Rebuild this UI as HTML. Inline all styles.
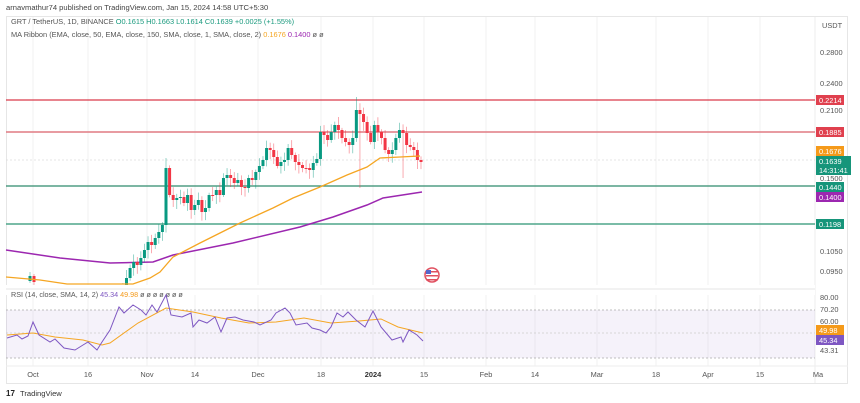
<!DOCTYPE html>
<html><head><meta charset="utf-8"><style>
html,body{margin:0;padding:0;background:#fff;width:860px;height:403px;overflow:hidden}
svg{display:block;font-family:"Liberation Sans",sans-serif}
</style></head><body>
<svg id="c" width="860" height="403" viewBox="0 0 860 403">
<rect x="0" y="0" width="860" height="403" fill="#fff"/>
<text x="6" y="10" font-size="7.6" fill="#444">arnavmathur74 published on TradingView.com, Jan 15, 2024 14:58 UTC+5:30</text>
<rect x="6.5" y="16.5" width="841" height="367" fill="none" stroke="#e6e6e6"/>
<line x1="815" y1="17" x2="815" y2="383" stroke="#ececec"/>
<g id="grid" stroke="#f2f2f2" stroke-width="1"></g>
<line x1="6" y1="100" x2="815" y2="100" stroke="#d93a4a" stroke-width="1.2"/>
<line x1="6" y1="132" x2="815" y2="132" stroke="#e07a82" stroke-width="1.6"/>
<line x1="6" y1="160" x2="815" y2="160" stroke="#ddd" stroke-width="0.8" stroke-dasharray="2,2"/>
<line x1="6" y1="186" x2="815" y2="186" stroke="#2e8a6c" stroke-width="1.2"/>
<line x1="6" y1="224" x2="815" y2="224" stroke="#4fa58a" stroke-width="1.4"/>
<polyline fill="none" stroke="#9c27b0" stroke-width="1.5" points="6,250 60,258 110,263 153,262 173,255 233,243 300,227 333,217 367,205 383,198 422,192"/>
<g id="candles"></g>
<polyline fill="none" stroke="#f5a623" stroke-width="1.3" points="6,277 40,280 67,284 133,284 150,278 160,272 173,257 200,243 240,223 273,208 293,198 320,187 347,175 367,167 380,158 400,157 420,156"/>
<rect x="0" y="285" width="815" height="10" fill="#fff"/>
<circle cx="432" cy="275" r="7" fill="#fff" stroke="#e05060" stroke-width="1.5"/>
<rect x="426" y="271" width="12" height="1.5" fill="#e05060"/><rect x="426" y="275" width="12" height="1.5" fill="#e05060"/><rect x="426" y="279" width="12" height="1.5" fill="#e05060"/><rect x="426" y="270" width="5" height="4" fill="#5566cc"/>
<text x="11" y="24" font-size="7.4" fill="#555">GRT / TetherUS, 1D, BINANCE <tspan fill="#1a9a7e">O0.1615  H0.1663  L0.1614  C0.1639  +0.0025 (+1.55%)</tspan></text>
<text x="11" y="37" font-size="7.4" fill="#555">MA Ribbon (EMA, close, 50, EMA, close, 150, SMA, close, 1, SMA, close, 2) <tspan fill="#f5a623">0.1676</tspan> <tspan fill="#9c27b0">0.1400</tspan> ø ø</text>
<g font-size="7.4" fill="#555">
<text x="822" y="28">USDT</text>
<text x="820" y="55">0.2800</text>
<text x="820" y="86">0.2400</text>
<text x="820" y="113">0.2100</text>
<text x="820" y="181">0.1500</text>
<text x="820" y="254">0.1050</text>
<text x="820" y="274">0.0950</text>
<text x="820" y="300">80.00</text>
<text x="820" y="312">70.20</text>
<text x="820" y="324">60.00</text>
<text x="820" y="353">43.31</text>
</g>
<g font-size="7.4" fill="#fff">
<rect x="816" y="95" width="28" height="10" fill="#e0404e"/><text x="819" y="103">0.2214</text>
<rect x="816" y="127" width="28" height="10" fill="#e0404e"/><text x="819" y="135">0.1885</text>
<rect x="816" y="146" width="28" height="10" fill="#f59a1a"/><text x="819" y="154">0.1676</text>
<rect x="816" y="156" width="35" height="19" fill="#16957a"/><text x="819" y="164">0.1639</text><text x="819" y="173">14:31:41</text>
<rect x="816" y="182" width="28" height="10" fill="#16957a"/><text x="819" y="190">0.1440</text>
<rect x="816" y="192" width="28" height="10" fill="#9c27b0"/><text x="819" y="200">0.1400</text>
<rect x="816" y="219" width="28" height="10" fill="#16957a"/><text x="819" y="227">0.1198</text>
<rect x="816" y="325" width="28" height="10" fill="#f59a1a"/><text x="819" y="333">49.98</text>
<rect x="816" y="335" width="28" height="10" fill="#7e57c2"/><text x="819" y="343">45.34</text>
</g>
<line x1="6" y1="289" x2="815" y2="289" stroke="#e6e6e6"/>
<rect x="6" y="310" width="809" height="48" fill="#7e57c2" fill-opacity="0.08"/>
<line x1="6" y1="310" x2="815" y2="310" stroke="#aaa" stroke-width="0.8" stroke-dasharray="2,2"/>
<line x1="6" y1="333" x2="815" y2="333" stroke="#ccc" stroke-width="0.8" stroke-dasharray="2,2"/>
<line x1="6" y1="358" x2="815" y2="358" stroke="#aaa" stroke-width="0.8" stroke-dasharray="2,2"/>
<text x="11" y="297" font-size="7.2" fill="#555">RSI (14, close, SMA, 14, 2) <tspan fill="#7e57c2">45.34</tspan> <tspan fill="#f59a1a">49.98</tspan> ø ø ø ø ø ø ø</text>
<polyline fill="none" stroke="#f5a623" stroke-width="1" points="7,335 33,333 55,337 83,340 102,345 110,343 138,323 166,308 193,312 221,318 249,323 276,322 304,318 331,323 359,321 381,319 398,327 423,333"/>
<polyline fill="none" stroke="#7e57c2" stroke-width="1" points="7,338 17,335 22,339 28,336 33,322 39,335 50,342 55,339 64,348 75,350 83,345 88,342 97,350 102,342 110,330 119,307 124,313 133,305 141,310 146,315 152,305 157,312 166,295 171,315 182,317 191,313 193,327 199,320 207,323 215,317 221,332 227,318 235,317 243,320 254,322 260,325 271,320 276,313 285,308 290,313 296,325 307,323 312,328 320,330 326,333 331,327 337,313 343,317 348,312 356,320 365,327 373,311 381,327 392,340 401,337 403,342 409,330 417,335 423,341"/>
<line x1="6" y1="366" x2="848" y2="366" stroke="#eee"/>
<g font-size="7.4" fill="#555" text-anchor="middle">
<text x="33" y="377">Oct</text><text x="88" y="377">16</text><text x="147" y="377">Nov</text><text x="195" y="377">14</text><text x="258" y="377">Dec</text><text x="321" y="377">18</text><text x="373" y="377" font-weight="bold" fill="#333">2024</text><text x="424" y="377">15</text><text x="486" y="377">Feb</text><text x="535" y="377">14</text><text x="597" y="377">Mar</text><text x="656" y="377">18</text><text x="708" y="377">Apr</text><text x="760" y="377">15</text><text x="818" y="377">Ma</text>
</g>
<text x="6" y="396" font-size="8" font-weight="bold" fill="#222">17</text>
<text x="20" y="396" font-size="7.6" fill="#333">TradingView</text>
</svg>
<script>
(function(){
var ns="http://www.w3.org/2000/svg";
var g=document.getElementById("grid");
[33,88,147,195,258,321,373,424,486,535,597,656,708,760].forEach(function(x){
 var l=document.createElementNS(ns,"line");l.setAttribute("x1",x);l.setAttribute("x2",x);l.setAttribute("y1",17);l.setAttribute("y2",366);g.appendChild(l);});
var A=[285,278,268,262,265,258,250,242,245,238,232,225,168,195,200,198,197,203,195,210,205,200,212,208,195,195,190,195,178,175,178,183,180,187,188,178,180,172,166,160,148,150,157,166,162,160,148,155,162,165,168,168,170,163,159,132,135,140,132,125,130,138,142,145,138,110,114,122,133,142,125,132,138,150,154,150,138,130,133,145,147,150,160,162];
var step=(421-166)/71, cg=document.getElementById("candles");
function add(x,o,c,h,lo){
 var col=c<o?"#089981":"#f23645";
 var w=document.createElementNS(ns,"line");w.setAttribute("x1",x);w.setAttribute("x2",x);w.setAttribute("y1",h);w.setAttribute("y2",lo);w.setAttribute("stroke",col);w.setAttribute("stroke-width","0.7");w.setAttribute("stroke-opacity","0.6");cg.appendChild(w);
 var r=document.createElementNS(ns,"rect");r.setAttribute("x",x-1.5);r.setAttribute("width",3);r.setAttribute("y",Math.min(o,c));r.setAttribute("height",Math.max(1,Math.abs(o-c)));r.setAttribute("fill",col);cg.appendChild(r);
}
add(30,281,276,272,283);add(34,276,282,274,287);
var prev=290;
for(var i=0;i<A.length;i++){
 var x=166+(i-12)*step, o=prev, c=A[i];
 var h=Math.min(o,c)-2-Math.abs(Math.sin(i*1.7))*6, lo=Math.max(o,c)+2+Math.abs(Math.cos(i*2.3))*7;
 if(i==65)h=97; if(i==66)lo=188; if(i==12)h=158; if(i==78)lo=178;
 add(x,o,c,h,Math.min(lo,284));
 prev=c;
}
})();
</script>
</body></html>
